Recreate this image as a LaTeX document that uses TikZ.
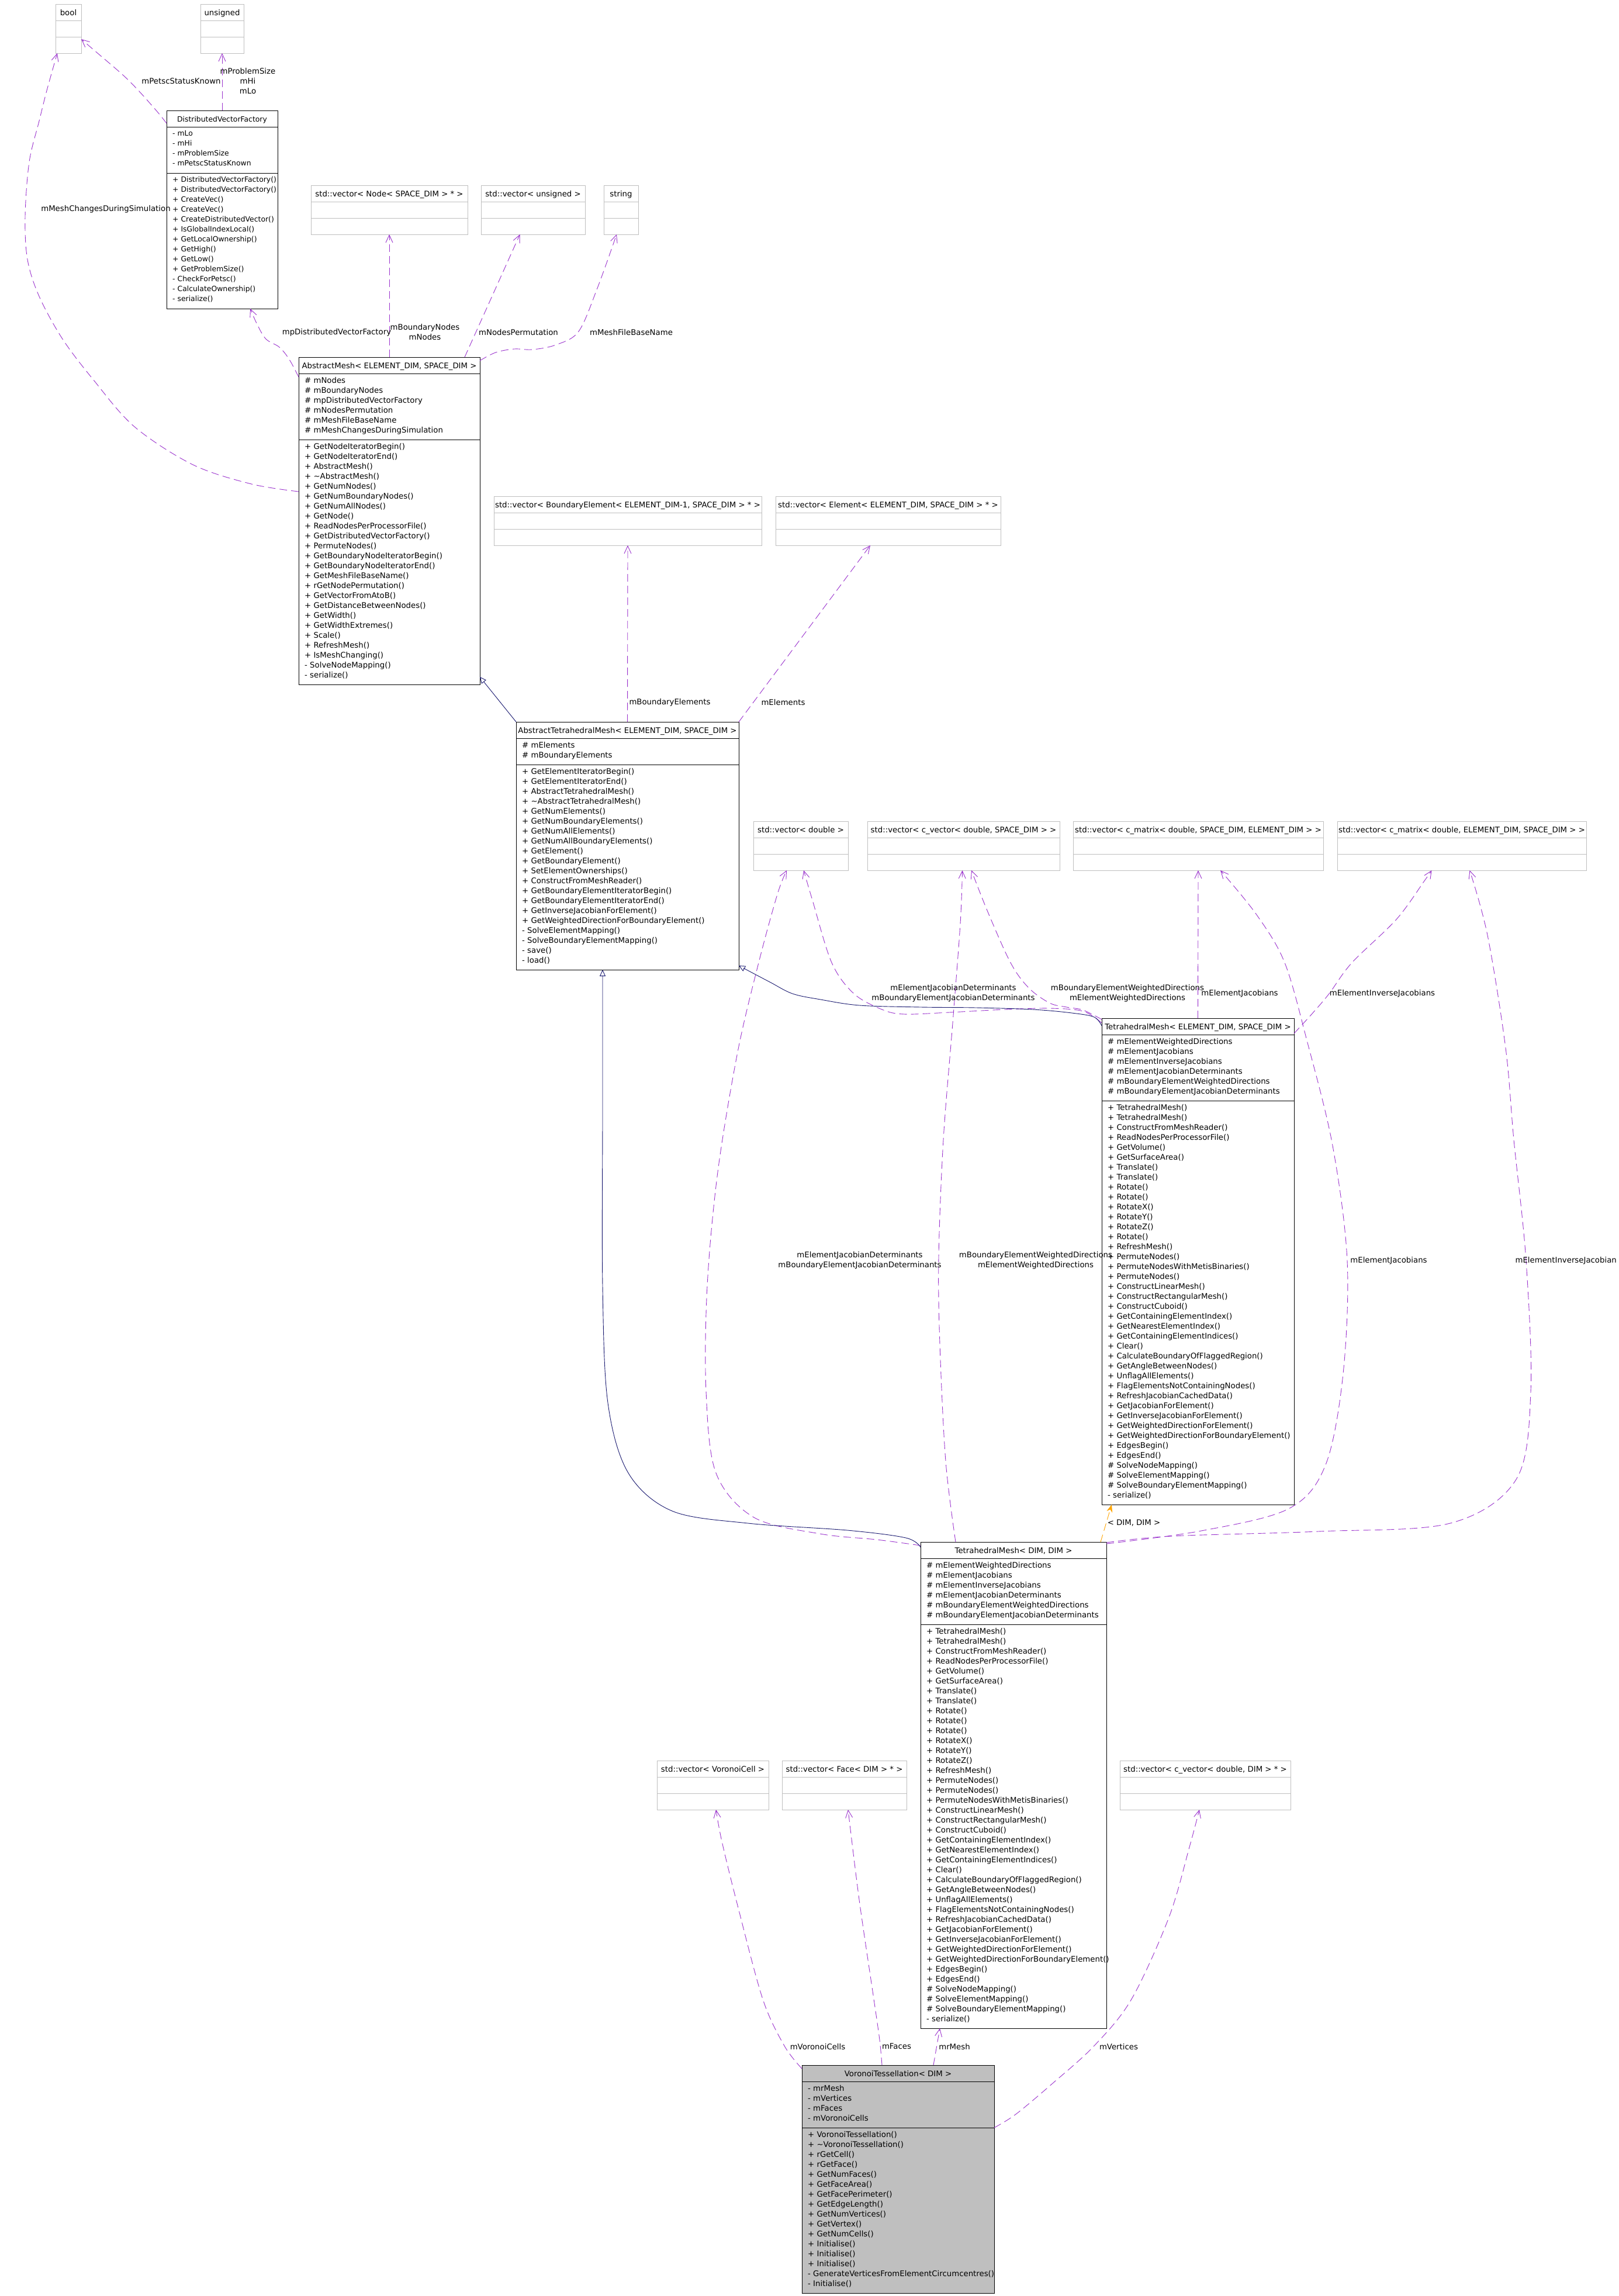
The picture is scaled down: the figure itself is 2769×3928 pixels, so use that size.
\documentclass[tikz,border=0pt]{standalone}
\usepackage{fontspec}
\setmainfont{DejaVu Sans}
\usetikzlibrary{arrows.meta}
\definecolor{usecol}{HTML}{9A32CD}
\definecolor{inhcol}{HTML}{191970}
\definecolor{tmplcol}{HTML}{FFA500}
\definecolor{boxgray}{HTML}{BFBFBF}
\newcommand\umlfs{13.3}
\newcommand\umlfont{\fontsize{\umlfs pt}{17pt}\selectfont}
\tikzset{
  ubextra/.style={},
  umlframe/.style={draw=black, line width=0.85pt, anchor=north west, inner sep=0pt, outer sep=0pt, ubextra},
  emptyframe/.style={draw=boxgray, line width=0.85pt, anchor=north west, inner sep=0pt, outer sep=0pt},
  umlsep/.style={draw=black, line width=0.85pt},
  emptysep/.style={draw=boxgray, line width=0.85pt},
  umlhead/.style={anchor=base, inner sep=0pt, font=\umlfont},
  umltext/.style={anchor=north west, inner sep=0pt, align=left, font=\umlfont, execute at begin node=\strut},
  lbl/.style={inner sep=0pt, align=center, font=\umlfont},
  usage/.style={draw=usecol, line width=0.9pt, dash pattern=on 13pt off 7pt, -{Straight Barb[length=13pt,width=12pt]}},
  inh/.style={draw=inhcol, line width=0.9pt, -{Triangle[open,length=11pt,width=10pt]}},
  tmpl/.style={draw=tmplcol, line width=0.9pt, dash pattern=on 13pt off 7pt, -{Stealth[length=13pt,width=10pt]}},
}
% name, left, top, right, nattr, nmeth, header, attrs, methods
\newcommand\umlbox[9]{%
  \pgfmathsetmacro\ubA{#3+28}%
  \pgfmathsetmacro\ubB{\ubA+17*#5+11}%
  \pgfmathsetmacro\ubC{\ubB+17*#6+11}%
  \pgfmathsetmacro\ubW{#4-#2}%
  \pgfmathsetmacro\ubH{\ubC-#3}%
  \pgfmathsetmacro\ubX{(#2+#4)/2}%
  \pgfmathsetmacro\ubT{#3+19}%
  \pgfmathsetmacro\ubL{#2+10}%
  \pgfmathsetmacro\ubAa{\ubA+5.9}%
  \pgfmathsetmacro\ubBb{\ubB+5.9}%
  \node[umlframe, minimum width=\ubW pt, minimum height=\ubH pt] (#1) at (#2,#3) {};%
  \draw[umlsep] (#2,\ubA) -- (#4,\ubA) (#2,\ubB) -- (#4,\ubB);%
  \node[umlhead] (#1-h) at (\ubX,\ubT) {#7};%
  \node[umltext] (#1-a) at (\ubL,\ubAa) {#8};%
  \node[umltext] (#1-m) at (\ubL,\ubBb) {#9};%
}
% name, left, top, right, header
\newcommand\emptybox[5]{%
  \pgfmathsetmacro\ubW{#4-#2}%
  \pgfmathsetmacro\ubX{(#2+#4)/2}%
  \pgfmathsetmacro\ubA{#3+28}%
  \pgfmathsetmacro\ubB{#3+56}%
  \pgfmathsetmacro\ubT{#3+19}%
  \node[emptyframe, minimum width=\ubW pt, minimum height=84pt] (#1) at (#2,#3) {};%
  \draw[emptysep] (#2,\ubA) -- (#4,\ubA) (#2,\ubB) -- (#4,\ubB);%
  \node[umlhead] (#1-h) at (\ubX,\ubT) {#5};%
}
\begin{document}
\begin{tikzpicture}[x=1pt,y=-1pt]
\useasboundingbox (0,0) rectangle (2769,3928);
\fill[white] (0,0) rectangle (2769,3928);

% ---------- boxes ----------
\emptybox{bool}{95}{7}{139}{bool}
\emptybox{unsig}{343}{7}{417}{unsigned}
\renewcommand\umlfs{12.4}
\umlbox{dvf}{285}{189}{475}{4}{13}{DistributedVectorFactory}
{- mLo\\- mHi\\- mProblemSize\\- mPetscStatusKnown}
{+ DistributedVectorFactory()\\+ DistributedVectorFactory()\\+ CreateVec()\\+ CreateVec()\\+ CreateDistributedVector()\\+ IsGlobalIndexLocal()\\+ GetLocalOwnership()\\+ GetHigh()\\+ GetLow()\\+ GetProblemSize()\\- CheckForPetsc()\\- CalculateOwnership()\\- serialize()}
\renewcommand\umlfs{13.3}
\emptybox{vnode}{532}{317}{800}{std::vector< Node< SPACE\_DIM > * >}
\emptybox{vuns}{823}{317}{1001}{std::vector< unsigned >}
\emptybox{vstr}{1033}{317}{1092}{string}
\umlbox{am}{511}{611}{821}{6}{24}{AbstractMesh< ELEMENT\_DIM, SPACE\_DIM >}
{\# mNodes\\\# mBoundaryNodes\\\# mpDistributedVectorFactory\\\# mNodesPermutation\\\# mMeshFileBaseName\\\# mMeshChangesDuringSimulation}
{+ GetNodeIteratorBegin()\\+ GetNodeIteratorEnd()\\+ AbstractMesh()\\+ \textasciitilde AbstractMesh()\\+ GetNumNodes()\\+ GetNumBoundaryNodes()\\+ GetNumAllNodes()\\+ GetNode()\\+ ReadNodesPerProcessorFile()\\+ GetDistributedVectorFactory()\\+ PermuteNodes()\\+ GetBoundaryNodeIteratorBegin()\\+ GetBoundaryNodeIteratorEnd()\\+ GetMeshFileBaseName()\\+ rGetNodePermutation()\\+ GetVectorFromAtoB()\\+ GetDistanceBetweenNodes()\\+ GetWidth()\\+ GetWidthExtremes()\\+ Scale()\\+ RefreshMesh()\\+ IsMeshChanging()\\- SolveNodeMapping()\\- serialize()}
\emptybox{vbe}{845}{849}{1303}{std::vector< BoundaryElement< ELEMENT\_DIM-1, SPACE\_DIM > * >}
\emptybox{vel}{1327}{849}{1712}{std::vector< Element< ELEMENT\_DIM, SPACE\_DIM > * >}
\umlbox{atm}{883}{1235}{1264}{2}{20}{AbstractTetrahedralMesh< ELEMENT\_DIM, SPACE\_DIM >}
{\# mElements\\\# mBoundaryElements}
{+ GetElementIteratorBegin()\\+ GetElementIteratorEnd()\\+ AbstractTetrahedralMesh()\\+ \textasciitilde AbstractTetrahedralMesh()\\+ GetNumElements()\\+ GetNumBoundaryElements()\\+ GetNumAllElements()\\+ GetNumAllBoundaryElements()\\+ GetElement()\\+ GetBoundaryElement()\\+ SetElementOwnerships()\\+ ConstructFromMeshReader()\\+ GetBoundaryElementIteratorBegin()\\+ GetBoundaryElementIteratorEnd()\\+ GetInverseJacobianForElement()\\+ GetWeightedDirectionForBoundaryElement()\\- SolveElementMapping()\\- SolveBoundaryElementMapping()\\- save()\\- load()}
\emptybox{vdbl}{1289}{1405}{1451}{std::vector< double >}
\emptybox{vcv}{1484}{1405}{1813}{std::vector< c\_vector< double, SPACE\_DIM > >}
\emptybox{vmse}{1836}{1405}{2264}{std::vector< c\_matrix< double, SPACE\_DIM, ELEMENT\_DIM > >}
\emptybox{vmes}{2288}{1405}{2714}{std::vector< c\_matrix< double, ELEMENT\_DIM, SPACE\_DIM > >}
\umlbox{tme}{1885}{1742}{2214}{6}{40}{TetrahedralMesh< ELEMENT\_DIM, SPACE\_DIM >}
{\# mElementWeightedDirections\\\# mElementJacobians\\\# mElementInverseJacobians\\\# mElementJacobianDeterminants\\\# mBoundaryElementWeightedDirections\\\# mBoundaryElementJacobianDeterminants}
{+ TetrahedralMesh()\\+ TetrahedralMesh()\\+ ConstructFromMeshReader()\\+ ReadNodesPerProcessorFile()\\+ GetVolume()\\+ GetSurfaceArea()\\+ Translate()\\+ Translate()\\+ Rotate()\\+ Rotate()\\+ RotateX()\\+ RotateY()\\+ RotateZ()\\+ Rotate()\\+ RefreshMesh()\\+ PermuteNodes()\\+ PermuteNodesWithMetisBinaries()\\+ PermuteNodes()\\+ ConstructLinearMesh()\\+ ConstructRectangularMesh()\\+ ConstructCuboid()\\+ GetContainingElementIndex()\\+ GetNearestElementIndex()\\+ GetContainingElementIndices()\\+ Clear()\\+ CalculateBoundaryOfFlaggedRegion()\\+ GetAngleBetweenNodes()\\+ UnflagAllElements()\\+ FlagElementsNotContainingNodes()\\+ RefreshJacobianCachedData()\\+ GetJacobianForElement()\\+ GetInverseJacobianForElement()\\+ GetWeightedDirectionForElement()\\+ GetWeightedDirectionForBoundaryElement()\\+ EdgesBegin()\\+ EdgesEnd()\\\# SolveNodeMapping()\\\# SolveElementMapping()\\\# SolveBoundaryElementMapping()\\- serialize()}
\umlbox{tmd}{1575}{2638}{1893}{6}{40}{TetrahedralMesh< DIM, DIM >}
{\# mElementWeightedDirections\\\# mElementJacobians\\\# mElementInverseJacobians\\\# mElementJacobianDeterminants\\\# mBoundaryElementWeightedDirections\\\# mBoundaryElementJacobianDeterminants}
{+ TetrahedralMesh()\\+ TetrahedralMesh()\\+ ConstructFromMeshReader()\\+ ReadNodesPerProcessorFile()\\+ GetVolume()\\+ GetSurfaceArea()\\+ Translate()\\+ Translate()\\+ Rotate()\\+ Rotate()\\+ Rotate()\\+ RotateX()\\+ RotateY()\\+ RotateZ()\\+ RefreshMesh()\\+ PermuteNodes()\\+ PermuteNodes()\\+ PermuteNodesWithMetisBinaries()\\+ ConstructLinearMesh()\\+ ConstructRectangularMesh()\\+ ConstructCuboid()\\+ GetContainingElementIndex()\\+ GetNearestElementIndex()\\+ GetContainingElementIndices()\\+ Clear()\\+ CalculateBoundaryOfFlaggedRegion()\\+ GetAngleBetweenNodes()\\+ UnflagAllElements()\\+ FlagElementsNotContainingNodes()\\+ RefreshJacobianCachedData()\\+ GetJacobianForElement()\\+ GetInverseJacobianForElement()\\+ GetWeightedDirectionForElement()\\+ GetWeightedDirectionForBoundaryElement()\\+ EdgesBegin()\\+ EdgesEnd()\\\# SolveNodeMapping()\\\# SolveElementMapping()\\\# SolveBoundaryElementMapping()\\- serialize()}
\emptybox{vvc}{1124}{3012}{1315}{std::vector< VoronoiCell >}
\emptybox{vface}{1338}{3012}{1551}{std::vector< Face< DIM > * >}
\emptybox{vcvd}{1916}{3012}{2208}{std::vector< c\_vector< double, DIM > * >}
\tikzset{ubextra/.style={fill=boxgray}}
\umlbox{vor}{1372}{3533}{1701}{4}{16}{VoronoiTessellation< DIM >}
{- mrMesh\\- mVertices\\- mFaces\\- mVoronoiCells}
{+ VoronoiTessellation()\\+ \textasciitilde VoronoiTessellation()\\+ rGetCell()\\+ rGetFace()\\+ GetNumFaces()\\+ GetFaceArea()\\+ GetFacePerimeter()\\+ GetEdgeLength()\\+ GetNumVertices()\\+ GetVertex()\\+ GetNumCells()\\+ Initialise()\\+ Initialise()\\+ Initialise()\\- GenerateVerticesFromElementCircumcentres()\\- Initialise()}
\tikzset{ubextra/.style={}}

% ---------- usage connectors ----------
\draw[usage] plot[smooth,tension=0.55] coordinates {([yshift=50pt]am.west) (430,828) (330,795) (230,730) (160,650) (107,580) (67,507) (47,444) (43,370) (50,277) (67,207) (80,155) ([xshift=-19pt]bool.south)};
\draw[usage] plot[smooth,tension=0.55] coordinates {([yshift=-22pt]dvf.north west) (269,191) (237,155) (210,128) (167,91) ([yshift=-18pt]bool.east)};
\draw[usage] (dvf.north) -- (unsig.south);
\draw[usage] plot[smooth,tension=0.55] coordinates {([yshift=-34pt]am.north west) (495,615) (478,594) (455,580) (440,555) ([xshift=48pt]dvf.south)};
\draw[usage] (am.north) -- (vnode.south);
\draw[usage] ([xshift=-26pt]am.north east) -- ([xshift=-22.5pt]vuns.south);
\draw[usage] plot[smooth,tension=0.55] coordinates {([yshift=-6pt]am.north east) (848,603) (880,597) (911,598) (951,590) (990,567) (1022,493) ([xshift=-7.5pt]vstr.south)};
\draw[usage] (atm.north) -- (vbe.south);
\draw[usage] (atm.north east) -- ([xshift=-30.5pt]vel.south);
\draw[usage] plot[smooth,tension=0.55] coordinates {([yshift=-8pt]tme.north west) (1853,1730) (1796,1725) (1719,1727) (1624,1732) (1547,1735) (1509,1727) (1461,1700) (1423,1647) (1390,1540) ([xshift=5pt]vdbl.south)};
\draw[usage] plot[smooth,tension=0.55] coordinates {([yshift=-2pt]tme.north west) (1853,1728) (1825,1723) (1796,1716) (1760,1690) (1729,1647) (1690,1560) ([xshift=13.5pt]vcv.south)};
\draw[usage] (tme.north) -- (vmse.south);
\draw[usage] plot[smooth,tension=0.55] coordinates {([yshift=-26pt]tme.north east) (2246,1733) (2274,1700) (2313,1647) (2389,1573) (2437,1507) ([xshift=-51.5pt]vmes.south)};
\draw[usage] plot[smooth,tension=0.55] coordinates {([yshift=-6pt]tmd.north west) (1500,2634) (1403,2624) (1290,2596) (1225,2520) (1208,2380) (1210,2200) (1228,2005) (1262,1800) (1298,1647) (1330,1530) ([xshift=-24pt]vdbl.south)};
\draw[usage] plot[smooth,tension=0.55] coordinates {([xshift=-99pt]tmd.north) (1618,2500) (1608,2300) (1606,2150) (1614,1950) (1630,1750) (1643,1580) ([xshift=-2pt]vcv.south)};
\draw[usage] plot[smooth,tension=0.55] coordinates {([yshift=-3pt]tmd.north east) (2055,2619) (2205,2581) (2268,2506) (2298,2350) (2305,2157) (2280,1960) (2236,1780) (2198,1647) (2150,1565) ([xshift=38pt]vmse.south)};
\draw[usage] plot[smooth,tension=0.55] coordinates {([yshift=-1pt]tmd.north east) (2005,2628) (2255,2620) (2481,2606) (2594,2531) (2619,2381) (2611,2157) (2590,1950) (2576,1793) (2545,1600) ([xshift=13.5pt]vmes.south)};
\draw[usage] plot[smooth,tension=0.55] coordinates {([yshift=-6pt]vor.north west) (1342,3500) (1305,3420) (1262,3260) (1235,3150) ([xshift=5.5pt]vvc.south)};
\draw[usage] plot[smooth,tension=0.55] coordinates {([xshift=-27.5pt]vor.north) (1505,3490) (1495,3420) (1470,3250) ([xshift=6.5pt]vface.south)};
\draw[usage] ([xshift=60.5pt]vor.north) -- ([xshift=-126pt]tmd.south);
\draw[usage] plot[smooth,tension=0.55] coordinates {([yshift=88pt]vor.east) (1738,3617) (1800,3565) (1872,3500) (1936,3420) (2000,3280) (2035,3160) ([xshift=-10pt]vcvd.south)};

% ---------- template instance ----------
\draw[tmpl] ([xshift=-10pt]tmd.north east) -- ([xshift=-147.5pt]tme.south);

% ---------- inheritance ----------
\draw[inh] (atm.north west) -- ([yshift=13pt]am.south east);
\draw[inh] plot[smooth,tension=0.55] coordinates {([yshift=-13pt]tme.north west) (1872,1740) (1834,1733) (1767,1727) (1671,1724) (1576,1723) (1471,1720) (1404,1710) (1356,1700) (1317,1680) ([yshift=7pt]atm.south east)};
\draw[inh] plot[smooth,tension=0.55] coordinates {([yshift=-9pt]tmd.north west) (1550,2631) (1450,2618) (1280,2606) (1150,2585) (1075,2520) (1040,2400) (1031,2200) (1031,1900) ([xshift=-42.5pt]atm.south)};

% ---------- labels ----------
\node[lbl] (l1) at (181,358) {mMeshChangesDuringSimulation};
\node[lbl] (l2) at (310,139) {mPetscStatusKnown};
\node[lbl] (l3) at (424,139) {mProblemSize\\mHi\\mLo};
\node[lbl] (l4) at (576,569) {mpDistributedVectorFactory};
\node[lbl] (l5) at (727,568.5) {mBoundaryNodes\\mNodes};
\node[lbl] (l6) at (887,569) {mNodesPermutation};
\node[lbl] (l7) at (1080,569) {mMeshFileBaseName};
\node[lbl] (l8) at (1146,1202) {mBoundaryElements};
\node[lbl] (l9) at (1340,1202) {mElements};
\node[lbl] (l10) at (1631,1699.5) {mElementJacobianDeterminants\\mBoundaryElementJacobianDeterminants};
\node[lbl] (l11) at (1929,1699.5) {mBoundaryElementWeightedDirections\\mElementWeightedDirections};
\node[lbl] (l12) at (2121,1700) {mElementJacobians};
\node[lbl] (l13) at (2365,1700) {mElementInverseJacobians};
\node[lbl] (l14) at (1471,2156.5) {mElementJacobianDeterminants\\mBoundaryElementJacobianDeterminants};
\node[lbl] (l15) at (1772,2156.5) {mBoundaryElementWeightedDirections\\mElementWeightedDirections};
\node[lbl] (l16) at (2376,2157) {mElementJacobians};
\node[lbl, anchor=east] (l17) at (2766,2157) {mElementInverseJacobian};
\node[lbl] (l18) at (1940,2605) {< DIM, DIM >};
\node[lbl] (l19) at (1399,3501) {mVoronoiCells};
\node[lbl] (l20) at (1534,3501) {mFaces};
\node[lbl] (l21) at (1633,3501) {mrMesh};
\node[lbl] (l22) at (1914,3501) {mVertices};
\end{tikzpicture}
\end{document}
